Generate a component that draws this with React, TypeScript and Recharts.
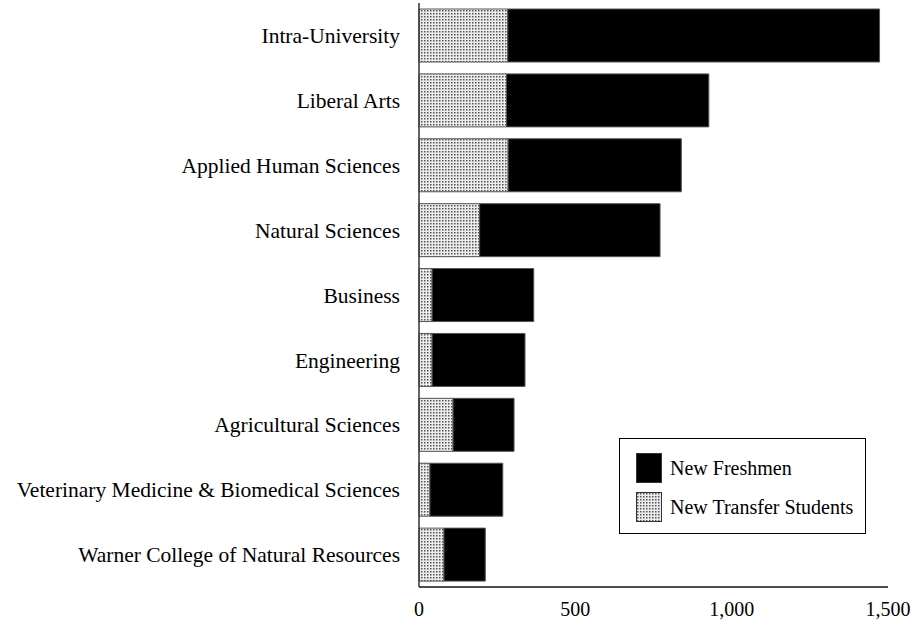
import { BarChart, Bar, XAxis, YAxis, Legend } from 'recharts'

const colleges = [
  'Intra-University',
  'Liberal Arts',
  'Applied Human Sciences',
  'Natural Sciences',
  'Business',
  'Engineering',
  'Agricultural Sciences',
  'Veterinary Medicine & Biomedical Sciences',
  'Warner College of Natural Resources',
]
const transferStudents = [284, 280, 285, 194, 42, 42, 109, 35, 80]
const newFreshmen = [1189, 647, 554, 577, 325, 297, 195, 233, 132]
const xTicks = [0, 500, 1000, 1500]

const data = colleges.map((name, i) => ({
  name,
  transfer: transferStudents[i],
  freshmen: newFreshmen[i],
}))

const FONT = '"Liberation Serif", "Times New Roman", serif'

function LegendBox(props: any) {
  const items = props.payload || []
  return (
    <div
      style={{
        width: 247,
        height: 96,
        boxSizing: 'border-box',
        border: '1.5px solid #000',
        background: '#fff',
        fontFamily: FONT,
        fontSize: 20,
        color: '#000',
        paddingTop: 14,
        paddingLeft: 16,
      }}
    >
      {items.map((entry: any) => (
        <div key={entry.value} style={{ display: 'flex', alignItems: 'center', height: 30, marginBottom: 9 }}>
          <svg width={26} height={30} style={{ marginRight: 8 }}>
            <rect x={0.5} y={0.5} width={25} height={29} fill={entry.color} stroke="#333" />
          </svg>
          <span>{entry.value}</span>
        </div>
      ))}
    </div>
  )
}

export default function App() {
  return (
    <div style={{ position: 'absolute', left: 0, top: 0, width: 912, height: 627, background: '#fff' }}>
      <BarChart
        width={912}
        height={627}
        data={data}
        layout="vertical"
        margin={{ top: 3, right: 24, bottom: 10, left: 0 }}
        barSize={53}
      >
        <defs>
          <pattern id="dots" width={3} height={3} patternUnits="userSpaceOnUse">
            <rect width={3} height={3} fill="#ececec" />
            <rect x={1} y={1} width={1.5} height={1.5} fill="#555" />
          </pattern>
        </defs>
        <XAxis
          type="number"
          domain={[0, 1500]}
          ticks={xTicks}
          height={30}
          tickFormatter={(v: number) => v.toLocaleString('en-US')}
          tickLine={false}
          tickSize={0}
          tickMargin={15}
          axisLine={{ stroke: '#111', strokeWidth: 1.5 }}
          tick={{ fill: '#000', fontSize: 20, fontFamily: FONT }}
        />
        <YAxis
          type="category"
          dataKey="name"
          width={419}
          tickLine={false}
          tickSize={0}
          tickMargin={19}
          interval={0}
          axisLine={{ stroke: '#333', strokeWidth: 1.5 }}
          tick={{ fill: '#000', fontSize: 21.5, fontFamily: FONT }}
        />
        <Legend
          layout="vertical"
          align="center"
          verticalAlign="middle"
          content={<LegendBox />}
          wrapperStyle={{ left: 619, top: 438, width: 247, height: 96 }}
        />
        <Bar
          dataKey="transfer"
          name="New Transfer Students"
          stackId="a"
          fill="url(#dots)"
          stroke="#555"
          strokeWidth={1}
          isAnimationActive={false}
        />
        <Bar
          dataKey="freshmen"
          name="New Freshmen"
          stackId="a"
          fill="#000"
          stroke="#555"
          strokeWidth={1}
          isAnimationActive={false}
        />
      </BarChart>
    </div>
  )
}
